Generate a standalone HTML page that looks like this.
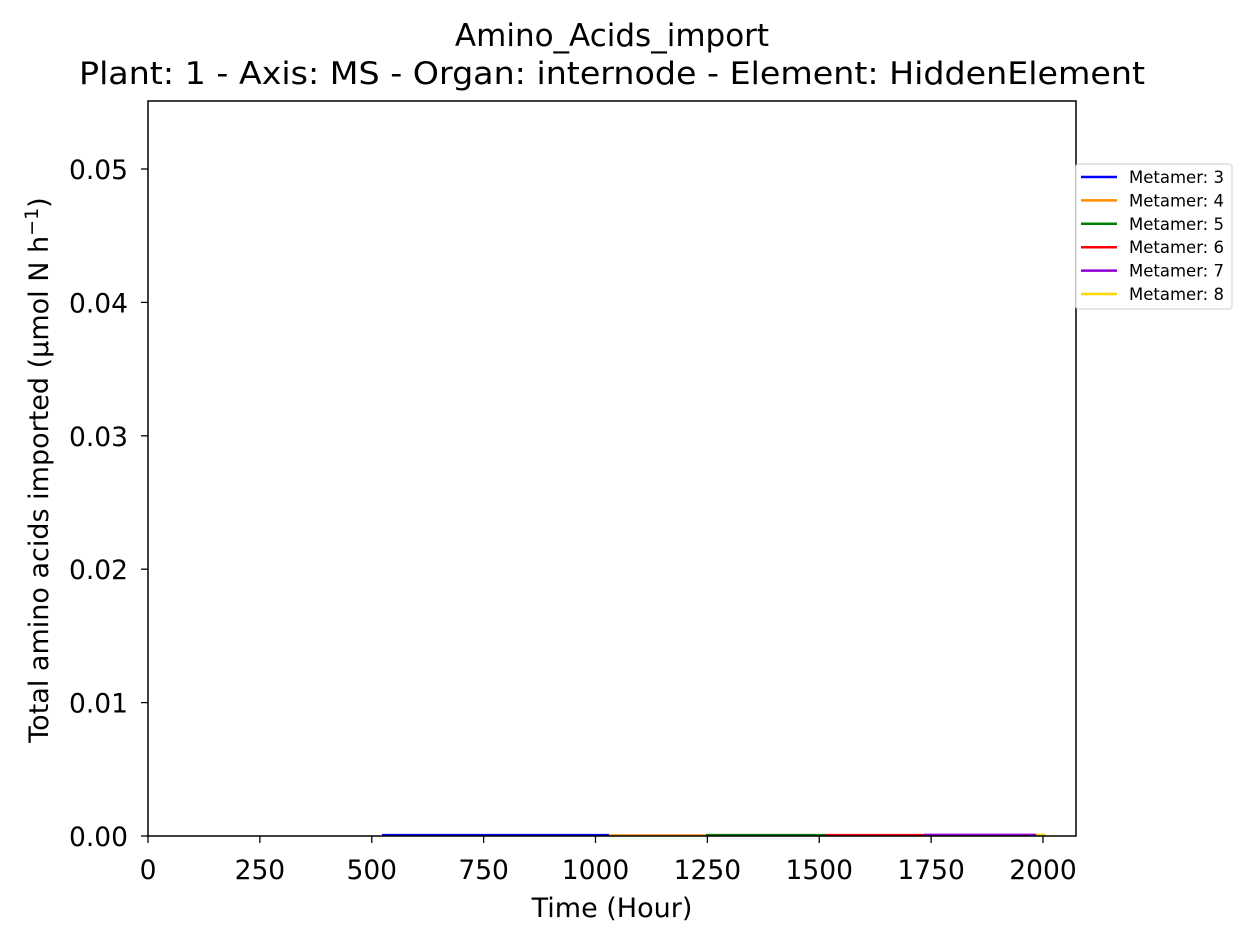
<!DOCTYPE html>
<html><head><meta charset="utf-8"><style>
body{margin:0;background:#fff;font-family:"Liberation Sans","DejaVu Sans",sans-serif}
</style></head><body>
<svg id="c" width="1252" height="943" xmlns="http://www.w3.org/2000/svg" font-family="DejaVu Sans, Liberation Sans, sans-serif">
<text x="612" y="46" text-anchor="middle" font-size="31">Amino_Acids_import</text>
<text x="612" y="84" text-anchor="middle" font-size="31" textLength="1066" lengthAdjust="spacingAndGlyphs">Plant: 1 - Axis: MS - Organ: internode - Element: HiddenElement</text>
<g id="ticks"></g>
<g id="series"></g>
<rect x="148" y="101" width="928" height="735" fill="none" stroke="#000" stroke-width="1.5"/>
<text x="612" y="917" text-anchor="middle" font-size="27">Time (Hour)</text>
<text transform="translate(48,470) rotate(-90)" text-anchor="middle" font-size="27">Total amino acids imported (μmol N h<tspan dy="-10" font-size="19">−1</tspan><tspan dy="10">)</tspan></text>
<g id="legend">
<rect x="1076" y="164" width="156" height="145" rx="3" fill="#fff" stroke="#ddd" stroke-width="1.5"/>
</g>
</svg>
<script>
const xTicks=[0,250,500,750,1000,1250,1500,1750,2000];
const yTicks=[0,0.01,0.02,0.03,0.04,0.05];
const yTickLabels=["0.00","0.01","0.02","0.03","0.04","0.05"];
const seriesNames=["Metamer: 3","Metamer: 4","Metamer: 5","Metamer: 6","Metamer: 7","Metamer: 8"];
const seriesColors=["#0000ff","#ff8c00","#008000","#ff0000","#9400d3","#ffd700"];
const seriesTimes=[[523,1030],[1030,1247],[1247,1513],[1513,1734],[1734,1985],[1985,2005]];
const seriesValues=[[0.00008,0.00008],[0.00006,0.00006],[0.00008,0.00008],[0.00008,0.00008],[0.0001,0.0001],[0.0001,0.0001]];
const X=t=>148+t*(1043-148)/2000;
const Y=v=>836-v*(836-169)/0.05;
const NS="http://www.w3.org/2000/svg";
const tk=document.getElementById('ticks');
function mk(tag,attrs,parent,txt){const e=document.createElementNS(NS,tag);for(const k in attrs)e.setAttribute(k,attrs[k]);if(txt!==undefined)e.textContent=txt;parent.appendChild(e);return e;}
xTicks.forEach(t=>{
  const l=mk('line',{x1:X(t),x2:X(t),y1:836,y2:843,stroke:'#000','stroke-width':1.3},tk);
  
  
  const s=mk('text',{x:X(t),y:879,'text-anchor':'middle','font-size':26.5},tk,String(t));
  
  
});
yTicks.forEach((v,i)=>{
  const l=mk('line',{x1:141,x2:148,y1:Y(v),y2:Y(v),stroke:'#000','stroke-width':1.3},tk);
  
  
  const s=mk('text',{x:128,y:Y(v)+10,'text-anchor':'end','font-size':26.5},tk,yTickLabels[i]);
  
  
});
const sg=document.getElementById('series');
seriesTimes.forEach((ts,i)=>{
  const pts=ts.map((t,j)=>X(t)+','+Y(seriesValues[i][j])).join(' ');
  const p=mk('polyline',{points:pts,fill:'none',stroke:seriesColors[i],'stroke-width':2},sg);
  
  
});
const lg=document.getElementById('legend');
seriesNames.forEach((n,i)=>{
  const y=177+i*23.4;
  const l=mk('line',{x1:1081,x2:1117,y1:y,y2:y,stroke:seriesColors[i],'stroke-width':2.5},lg);
  
  
  const t=mk('text',{x:1129,y:y+6,'font-size':16.5},lg,n);
  
  
});
</script>
</body></html>
